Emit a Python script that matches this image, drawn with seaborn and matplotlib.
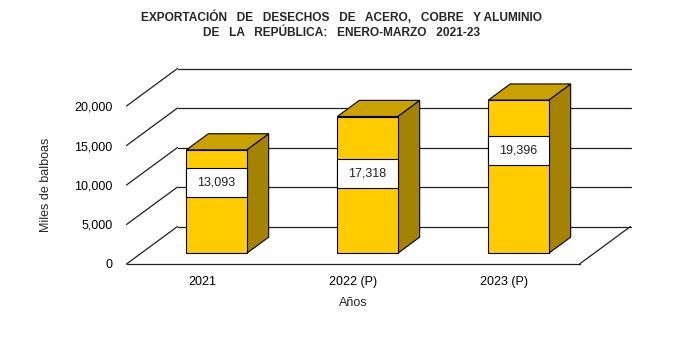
import matplotlib
matplotlib.use('Agg')
import matplotlib.pyplot as plt
import seaborn as sns
import pandas as pd
from matplotlib.patches import Polygon, Rectangle

# ---- data ----
years = ['2021', '2022 (P)', '2023 (P)']
values = [13093, 17318, 19396]
value_labels = ['13,093', '17,318', '19,396']
yticks = [0, 5000, 10000, 15000, 20000]
ytick_labels = ['0', '5,000', '10,000', '15,000', '20,000']
title_lines = ['EXPORTACIÓN   DE   DESECHOS   DE   ACERO,   COBRE   Y ALUMINIO',
               'DE   LA   REPÚBLICA:   ENERO-MARZO   2021-23']
xlabel = 'Años'
ylabel = 'Miles de balboas'

# ---- style ----
sns.set_theme(style='white')
plt.rcParams['font.family'] = ['Liberation Sans', 'DejaVu Sans']

W, H = 683, 343
fig = plt.figure(figsize=(W / 100, H / 100), dpi=100)
fig.patch.set_facecolor('white')

x0, x1 = 126.5, 579.5      # front plane, pixels
y0 = 264                   # baseline pixel (from top)
pxv = 0.0079               # pixels per value unit
ymax = 20000
ax = fig.add_axes([x0 / W, (H - y0) / H, (x1 - x0) / W, ymax * pxv / H])
ax.set_facecolor('none')

df = pd.DataFrame({'year': years, 'value': values})
sns.barplot(data=df, x='year', y='value', width=0.4, color='#FFCC00',
            saturation=1, edgecolor='black', linewidth=0.8, ax=ax, zorder=3)
ax.set_xlim(-0.5, 2.5)
ax.set_ylim(0, ymax)

px_cat = (x1 - x0) / 3
Dx = 51 / px_cat           # depth vector in data units
Dy = 37.5 / pxv
f0, f1 = 0.285, 0.715      # bar depth placement
grid_col = '#202020'

# walls / floor
for v in yticks:
    ax.plot([-0.5, -0.5 + Dx], [v, v + Dy], color=grid_col, lw=0.9,
            clip_on=False, zorder=1)
    ax.plot([-0.5 + Dx, 2.5 + Dx], [v + Dy, v + Dy], color=grid_col, lw=0.9,
            clip_on=False, zorder=1)
ax.plot([-0.5, 2.5], [0, 0], color=grid_col, lw=0.9, clip_on=False, zorder=1)
ax.plot([2.5, 2.5 + Dx], [0, Dy], color=grid_col, lw=0.9, clip_on=False, zorder=1)

# 3D bars
ddx, ddy = (f1 - f0) * Dx, (f1 - f0) * Dy
label_frac = [0.686, 0.585, 0.672]
box_h = 29 / pxv
for p, v, lab, fr in zip(ax.patches, values, value_labels, label_frac):
    w = p.get_width()
    l = p.get_x() + f0 * Dx
    p.set_x(l)
    b0 = f0 * Dy
    p.set_y(b0)
    p.set_clip_on(False)
    r = l + w
    t = v + b0
    side = Polygon([(r, b0), (r, t), (r + ddx, t + ddy), (r + ddx, b0 + ddy)],
                   closed=True, facecolor='#A38300', edgecolor='black',
                   lw=0.8, zorder=2.9, clip_on=False)
    top = Polygon([(l, t), (r, t), (r + ddx, t + ddy), (l + ddx, t + ddy)],
                  closed=True, facecolor='#C9A200', edgecolor='black',
                  lw=0.8, zorder=2.9, clip_on=False)
    ax.add_patch(side)
    ax.add_patch(top)
    yc = b0 + v * fr
    ax.add_patch(Rectangle((l, yc - box_h / 2), w, box_h, facecolor='white',
                           edgecolor='black', lw=0.8, zorder=4, clip_on=False))
    ax.text(l + w / 2, yc, lab, ha='center', va='center', fontsize=9,
            color='#222222', zorder=5)

# axes text
ax.set_yticks(yticks, ytick_labels)
ax.tick_params(axis='both', length=0, labelsize=9, colors='black')
ax.tick_params(axis='y', pad=10)
ax.tick_params(axis='x', pad=8.5)
ax.set_xlabel(xlabel, fontsize=9, labelpad=6.5)
ax.set_ylabel(ylabel, fontsize=9, labelpad=16)
ax.grid(False)
sns.despine(ax=ax, left=True, bottom=True)

fig.text(0.5, 1 - 17 / H, title_lines[0], ha='center', va='center',
         fontsize=8.6, fontweight='bold')
fig.text(0.5, 1 - 33 / H, title_lines[1], ha='center', va='center',
         fontsize=8.6, fontweight='bold')

fig.savefig('out.png', dpi=100, facecolor='white')
